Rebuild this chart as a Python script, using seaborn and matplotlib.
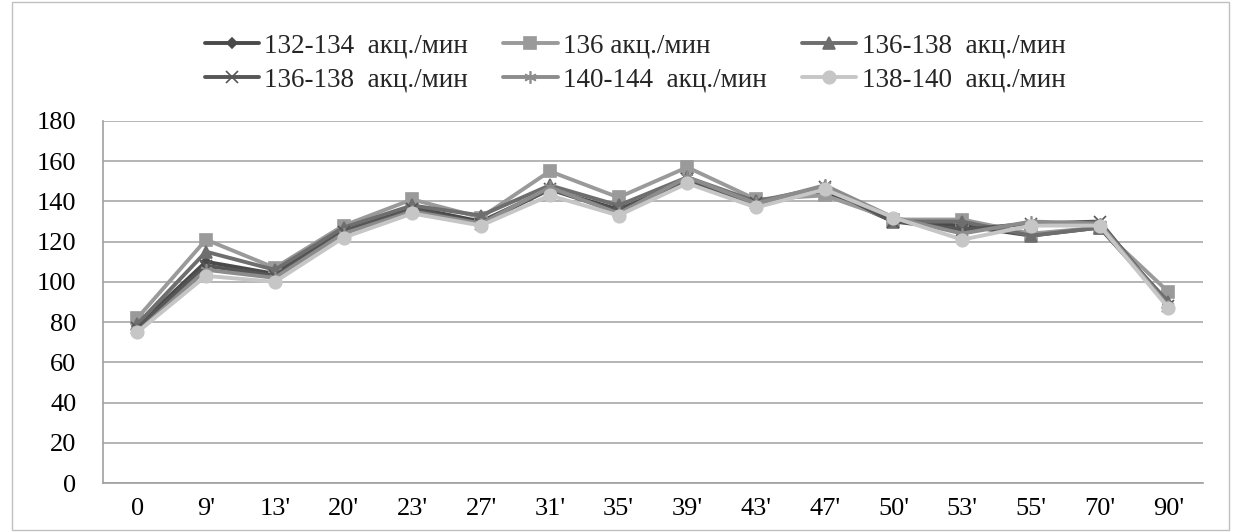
import matplotlib
matplotlib.use("Agg")
import matplotlib.pyplot as plt
from matplotlib.patches import Rectangle
import seaborn as sns
import numpy as np

# time points (x categories)
times = ["0", "9'", "13'", "20'", "23'", "27'", "31'", "35'", "39'", "43'", "47'", "50'", "53'", "55'", "70'", "90'"]

# heart rate series
hr_132_134 = [78, 110, 104, 126, 137, 130, 146, 136, 150, 139, 145, 130, 128, 123, 127, 89]
hr_136 = [82, 121, 107, 128, 141, 132, 155, 142, 157, 141, 143, 131, 131, 124, 127, 95]
hr_136_138a = [79, 115, 106, 127, 138, 133, 148, 138, 152, 140, 147, 130, 130, 123, 127, 90]
hr_136_138b = [77, 108, 103, 125, 136, 129, 146, 135, 151, 139, 147, 130, 126, 129, 130, 88]
hr_140_144 = [75, 106, 102, 124, 135, 129, 147, 134, 152, 139, 148, 132, 124, 130, 129, 88]
hr_138_140 = [75, 103, 100, 122, 134, 128, 143, 133, 149, 137, 146, 132, 121, 128, 128, 87]

labels = ["132-134  акц./мин", "136 акц./мин", "136-138  акц./мин",
          "136-138  акц./мин", "140-144  акц./мин", "138-140  акц./мин"]
series = [hr_132_134, hr_136, hr_136_138a, hr_136_138b, hr_140_144, hr_138_140]
colors = ["#4a4a4a", "#9a9a9a", "#6e6e6e", "#565656", "#8c8c8c", "#c6c6c6"]
markers = ["D", "s", "^", "x", (6, 2, 0), "o"]
msizes = [5, 8, 8, 8, 9, 9]

sns.set_style("white")
plt.rcParams["font.family"] = ["Liberation Serif", "DejaVu Serif"]

fig = plt.figure(figsize=(12.33, 5.32), dpi=100)
ax = fig.add_axes([0.0835, 0.0921, 0.892, 0.6805])

pos = np.arange(len(times))
for vals, lab, col, mk, ms in zip(series, labels, colors, markers, msizes):
    sns.lineplot(x=pos, y=vals, ax=ax, color=col, marker=mk, markersize=ms,
                 markeredgecolor=col, markeredgewidth=1.2, linewidth=2.8,
                 sort=False, label=lab)

ax.set_xlim(-0.5, len(times) - 0.5)
ax.set_ylim(0, 180)
ax.set_yticks(range(0, 181, 20))
ax.set_xticks(pos)
ax.set_xticklabels(times)
ax.set_xticks(np.arange(-0.5, len(times), 1.0), minor=True)
ax.tick_params(axis="x", which="major", length=0, pad=11, labelsize=19, labelcolor="black")
ax.tick_params(axis="x", which="minor", length=6, color="#a0a0a0", width=1, direction="out")
ax.tick_params(axis="y", length=7, color="#a0a0a0", width=1, direction="out", labelsize=19,
               pad=12, labelcolor="black")
ax.grid(axis="y", color="#a8a8a8", linewidth=1.2)
ax.grid(axis="x", visible=False)
for side in ["top", "right"]:
    ax.spines[side].set_visible(False)
for side in ["left", "bottom"]:
    ax.spines[side].set_color("#a0a0a0")
    ax.spines[side].set_linewidth(1.2)
ax.set_xlabel("")
ax.set_ylabel("")

h, l = ax.get_legend_handles_labels()
order = [0, 3, 1, 4, 2, 5]
ax.legend([h[i] for i in order], [l[i] for i in order], ncol=3, frameon=False,
          loc="upper center", bbox_to_anchor=(0.515, 0.983), bbox_transform=fig.transFigure,
          fontsize=19.5, handlelength=2.0, handletextpad=0.2, columnspacing=1.3,
          labelspacing=0.33)

fig.patches.append(Rectangle((0.0097, 0.004), 0.987, 0.992, transform=fig.transFigure,
                             fill=False, edgecolor="#c0c0c0", linewidth=1.0))

plt.savefig("out.png", dpi=100)
